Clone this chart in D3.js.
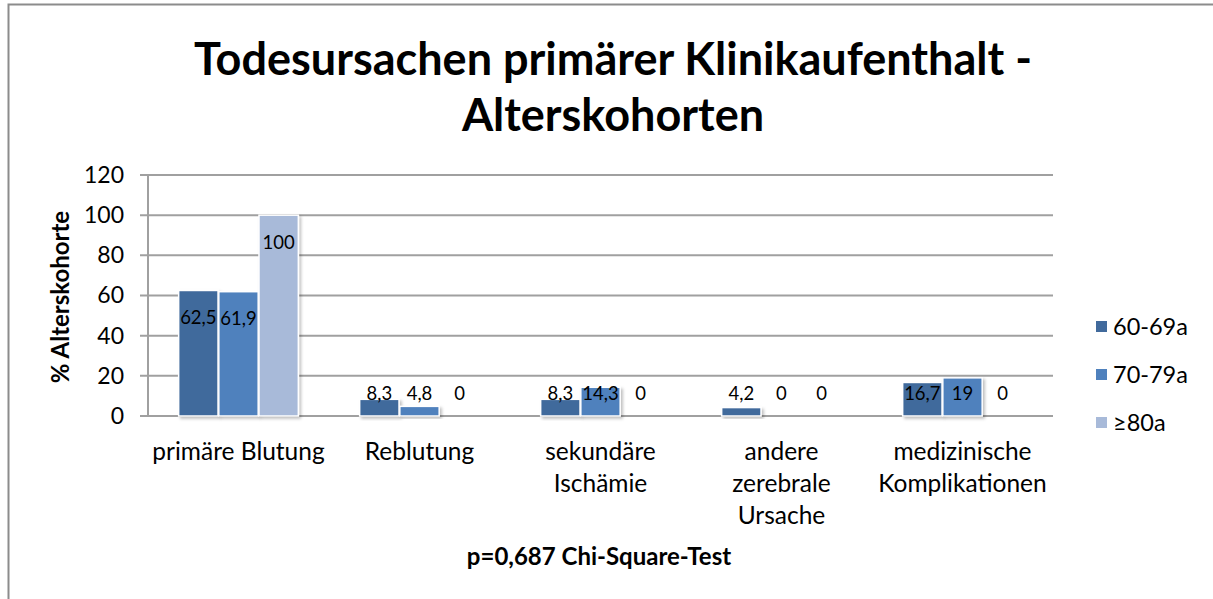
<!DOCTYPE html>
<html>
<head>
<meta charset="utf-8">
<script src="https://cdn.jsdelivr.net/npm/d3@7"></script>
<style>
  body { margin: 0; background: #fff; }
  text { font-family: Lato, "Open Sans", sans-serif; }
</style>
</head>
<body>
<div id="chart"></div>
<script>
// data
var categories = ["primäre Blutung", "Reblutung", "sekundäre Ischämie", "andere zerebrale Ursache", "medizinische Komplikationen"]
var catLines = [["primäre Blutung"], ["Reblutung"], ["sekundäre", "Ischämie"], ["andere", "zerebrale", "Ursache"], ["medizinische", "Komplikationen"]]
var seriesNames = ["60-69a", "70-79a", "≥80a"]
var v60 = [62.5, 8.3, 8.3, 4.2, 16.7]
var v70 = [61.9, 4.8, 14.3, 0, 19]
var v80 = [100, 0, 0, 0, 0]
var labels60 = ["62,5", "8,3", "8,3", "4,2", "16,7"]
var labels70 = ["61,9", "4,8", "14,3", "0", "19"]
var labels80 = ["100", "0", "0", "0", "0"]
var yTicks = [0, 20, 40, 60, 80, 100, 120]
var colors = ["#416a9c", "#4f81bd", "#a8bad9"]

var W = 1213, H = 599
var margin = {top: 175, right: 160, bottom: 183, left: 148}
var width = 1053 - margin.left,
    height = 416 - margin.top

var svg = d3.select("#chart").append("svg")
  .attr("width", W).attr("height", H)

// chart frame (only left and top visible in the crop)
svg.append("path")
  .attr("d", "M8.5," + H + " V4.5 H" + (W + 5))
  .attr("fill", "none").attr("stroke", "#8c8c8c").attr("stroke-width", 2)

var g = svg.append("g").attr("transform", "translate(" + margin.left + "," + margin.top + ")")

var x = d3.scaleBand().domain(categories).range([0, width]).paddingInner(0).paddingOuter(0)
var x1 = d3.scaleBand().domain(seriesNames).range([x.bandwidth() * 0.165, x.bandwidth() * 0.835]).padding(0.02)
var y = d3.scaleLinear().domain([0, 120]).range([height, 0])

// grid
g.selectAll(".grid").data(yTicks).enter().append("line")
  .attr("x1", -8).attr("x2", width)
  .attr("y1", function(d) { return y(d) }).attr("y2", function(d) { return y(d) })
  .attr("stroke", "#a0a0a0").attr("stroke-width", 2)

// y axis line
g.append("line").attr("x1", 0).attr("x2", 0).attr("y1", 0).attr("y2", height)
  .attr("stroke", "#a0a0a0").attr("stroke-width", 2)

var yAxis = g.append("g").call(d3.axisLeft(y).tickValues(yTicks).tickSize(0).tickPadding(24))
yAxis.select(".domain").remove()
yAxis.selectAll("text").style("font-size", "23px").style("fill", "#000").style("font-family", "Lato, sans-serif")

// axis title
svg.append("text")
  .attr("transform", "translate(69,297) rotate(-90)")
  .attr("text-anchor", "middle")
  .style("font-size", "24px").style("font-weight", "bold")
  .text("% Alterskohorte")

var series = [v60, v70, v80]
var seriesLabels = [labels60, labels70, labels80]
var data = []
categories.forEach(function(c, i) {
  seriesNames.forEach(function(s, j) {
    data.push({cat: c, ser: s, idx: j, value: series[j][i], label: seriesLabels[j][i]})
  })
})

var defs = svg.append("defs")
var f = defs.append("filter").attr("id", "sh").attr("x", "-20%").attr("y", "-20%").attr("width", "150%").attr("height", "150%")
f.append("feDropShadow").attr("dx", 2).attr("dy", 2).attr("stdDeviation", 1.5).attr("flood-color", "#000").attr("flood-opacity", 0.25)

var bars = g.selectAll(".bar").data(data).enter().append("g")
  .attr("transform", function(d) { return "translate(" + (x(d.cat) + x1(d.ser)) + ",0)" })

bars.filter(function(d) { return d.value > 0 }).append("rect")
  .attr("x", 0).attr("width", x1.bandwidth())
  .attr("y", function(d) { return y(d.value) })
  .attr("height", function(d) { return height - y(d.value) })
  .attr("fill", function(d) { return colors[d.idx] })
  .attr("stroke", "#ffffff").attr("stroke-width", 1.5)
  .attr("filter", "url(#sh)")

bars.append("text")
  .attr("x", x1.bandwidth() / 2)
  .attr("y", function(d) { return Math.min(y(d.value) + 27, height - 22) })
  .attr("dy", "0.35em")
  .attr("text-anchor", "middle")
  .style("font-size", "18.5px")
  .text(function(d) { return d.label })

// category labels
var cl = g.selectAll(".cat").data(categories).enter().append("text")
  .attr("x", function(d) { return x(d) + x.bandwidth() / 2 })
  .attr("y", height + 44)
  .attr("text-anchor", "middle")
  .style("font-size", "24.5px")
cl.selectAll("tspan").data(function(d, i) { return catLines[i] }).enter().append("tspan")
  .attr("x", function() { var p = this.parentNode; return d3.select(p).attr("x") })
  .attr("dy", function(d, i) { return i == 0 ? 0 : 32 })
  .text(function(d) { return d })

// legend
var leg = svg.append("g").attr("transform", "translate(1096,327)")
seriesNames.forEach(function(s, i) {
  var row = leg.append("g").attr("transform", "translate(0," + (i * 48) + ")")
  row.append("rect").attr("x", 0).attr("y", -6).attr("width", 11).attr("height", 11).attr("fill", colors[i])
  row.append("text").attr("x", 17).attr("y", 0).attr("dy", "0.35em").style("font-size", "23.5px").text(s)
})

// title
var title = svg.append("text").attr("text-anchor", "middle")
  .style("font-size", "45px").style("font-weight", "bold")
title.append("tspan").attr("x", 613).attr("y", 75).text("Todesursachen primärer Klinikaufenthalt -")
title.append("tspan").attr("x", 613).attr("y", 131).text("Alterskohorten")

// footer
svg.append("text").attr("x", 599).attr("y", 565).attr("text-anchor", "middle")
  .style("font-size", "24px").style("font-weight", "bold")
  .text("p=0,687 Chi-Square-Test")
</script>
</body>
</html>
